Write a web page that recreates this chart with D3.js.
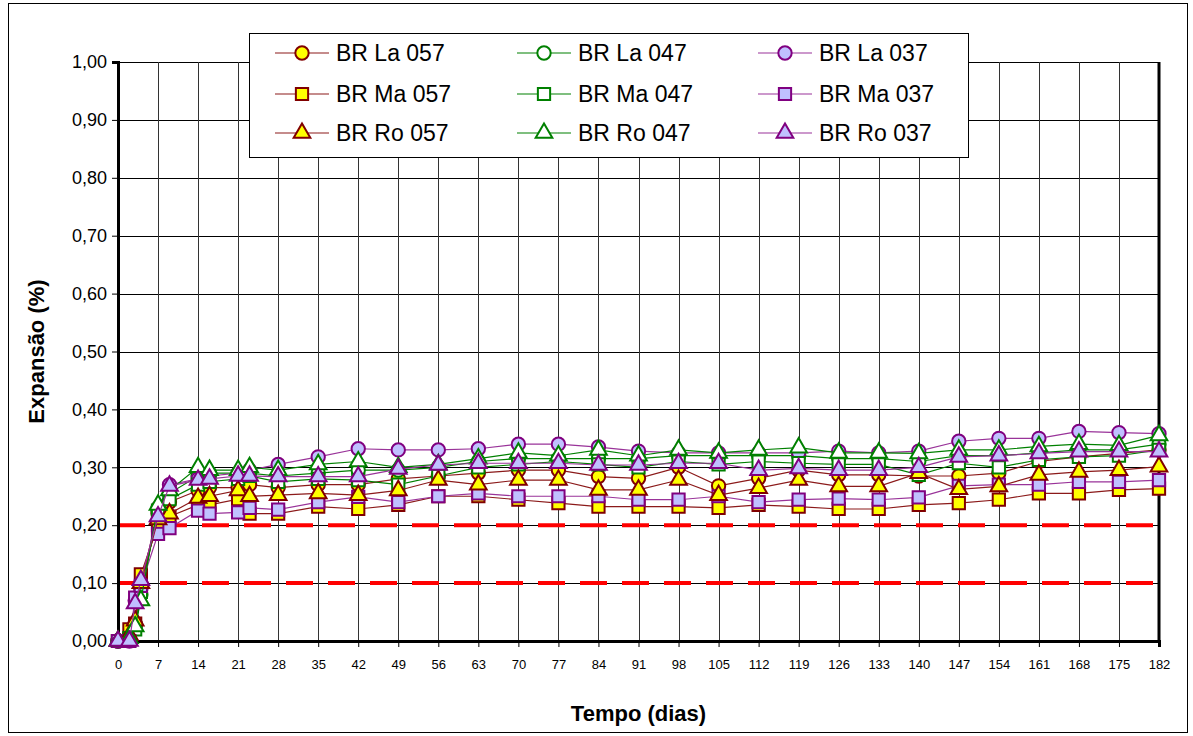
<!DOCTYPE html>
<html>
<head>
<meta charset="utf-8">
<script src="https://cdn.jsdelivr.net/npm/d3@7"></script>
<style>
    body { margin: 0; background: #fff; }
    #expansao { width: 1193px; height: 736px; }
    text { font-family: Arial, "Liberation Sans", sans-serif; }
</style>
</head>
<body>
<div id="expansao"></div>
<script>
// measuring days
const days = [0, 2, 3, 4, 7, 9, 14, 16, 21, 23, 28, 35, 42, 49, 56, 63, 70, 77, 84, 91, 98, 105, 112, 119, 126, 133, 140, 147, 154, 161, 168, 175, 182];

// expansion values (%) per specimen
const la057 = [0, 0.01, 0.03, 0.10, 0.22, 0.24, 0.26, 0.265, 0.265, 0.27, 0.265, 0.27, 0.27, 0.28, 0.285, 0.29, 0.295, 0.295, 0.284, 0.281, 0.30, 0.268, 0.281, 0.295, 0.287, 0.287, 0.285, 0.285, 0.29, 0.31, 0.318, 0.324, 0.33];
const la047 = [0, 0.005, 0.025, 0.08, 0.225, 0.255, 0.285, 0.29, 0.29, 0.29, 0.285, 0.29, 0.295, 0.295, 0.30, 0.31, 0.315, 0.315, 0.315, 0.315, 0.32, 0.32, 0.32, 0.32, 0.315, 0.315, 0.31, 0.32, 0.32, 0.325, 0.33, 0.33, 0.34];
const la037 = [0, 0, 0.07, 0.09, 0.23, 0.27, 0.28, 0.285, 0.29, 0.295, 0.305, 0.318, 0.332, 0.33, 0.33, 0.332, 0.34, 0.34, 0.335, 0.328, 0.325, 0.325, 0.325, 0.325, 0.328, 0.325, 0.328, 0.345, 0.35, 0.35, 0.362, 0.36, 0.358];
const ma057 = [0, 0.02, 0.03, 0.115, 0.20, 0.215, 0.235, 0.235, 0.245, 0.22, 0.22, 0.232, 0.228, 0.235, 0.25, 0.25, 0.244, 0.238, 0.232, 0.232, 0.232, 0.23, 0.235, 0.232, 0.228, 0.228, 0.235, 0.238, 0.244, 0.255, 0.255, 0.261, 0.263];
const ma047 = [0, 0.005, 0.02, 0.085, 0.225, 0.245, 0.27, 0.275, 0.28, 0.285, 0.275, 0.28, 0.278, 0.27, 0.285, 0.30, 0.305, 0.31, 0.305, 0.30, 0.31, 0.305, 0.31, 0.307, 0.305, 0.305, 0.287, 0.307, 0.30, 0.313, 0.318, 0.32, 0.33];
const ma037 = [0, 0, 0.075, 0.095, 0.185, 0.195, 0.225, 0.22, 0.222, 0.23, 0.227, 0.24, 0.249, 0.24, 0.25, 0.255, 0.25, 0.25, 0.25, 0.244, 0.244, 0.25, 0.24, 0.244, 0.246, 0.244, 0.248, 0.268, 0.27, 0.27, 0.275, 0.275, 0.278];
const ro057 = [0, 0.01, 0.035, 0.10, 0.21, 0.22, 0.247, 0.25, 0.26, 0.25, 0.252, 0.255, 0.252, 0.26, 0.278, 0.27, 0.278, 0.278, 0.261, 0.261, 0.278, 0.252, 0.264, 0.278, 0.267, 0.267, 0.29, 0.262, 0.267, 0.287, 0.292, 0.295, 0.301];
const ro047 = [0, 0.005, 0.025, 0.07, 0.235, 0.26, 0.30, 0.295, 0.295, 0.30, 0.295, 0.305, 0.31, 0.30, 0.305, 0.315, 0.325, 0.32, 0.33, 0.32, 0.33, 0.325, 0.33, 0.334, 0.325, 0.325, 0.324, 0.33, 0.33, 0.336, 0.34, 0.338, 0.355];
const ro037 = [0, 0, 0.065, 0.105, 0.215, 0.268, 0.278, 0.28, 0.285, 0.285, 0.284, 0.284, 0.284, 0.297, 0.304, 0.307, 0.307, 0.307, 0.304, 0.304, 0.307, 0.307, 0.295, 0.298, 0.295, 0.295, 0.30, 0.318, 0.32, 0.324, 0.327, 0.327, 0.327];

// series names in legend order (row by row)
const seriesNames = ["BR La 057", "BR La 047", "BR La 037", "BR Ma 057", "BR Ma 047", "BR Ma 037", "BR Ro 057", "BR Ro 047", "BR Ro 037"];
const seriesValues = [la057, la047, la037, ma057, ma047, ma037, ro057, ro047, ro037];

// x ticks every week, y ticks every 0,10
const xTicks = d3.range(0, 183, 7);
const yTicks = [0, 0.1, 0.2, 0.3, 0.4, 0.5, 0.6, 0.7, 0.8, 0.9, 1.0];
const limits = [0.1, 0.2];

// colour per cement (057, 047, 037) and symbol per aggregate (La, Ma, Ro)
const styles = {
    "057": {line: "#8b1a1a", stroke: "#800000", fill: "#ffff00"},
    "047": {line: "#008000", stroke: "#008000", fill: "#ffffff"},
    "037": {line: "#993399", stroke: "#800080", fill: "#c0c0ff"}
};
const symbols = {"La": d3.symbolCircle, "Ma": d3.symbolSquare, "Ro": d3.symbolTriangle};
const symbolSizes = {"La": 140, "Ma": 150, "Ro": 120};

let margin = {top: 62, right: 34, bottom: 95, left: 118},
    width = 1193 - margin.left - margin.right,
    height = 736 - margin.top - margin.bottom;

let svg = d3.select("#expansao")
    .append("svg")
    .attr("width", 1193)
    .attr("height", 736);

// outer frame of the chart
svg.append("rect")
    .attr("x", 8.5)
    .attr("y", 3.5)
    .attr("width", 1179)
    .attr("height", 729)
    .attr("fill", "white")
    .attr("stroke", "black")
    .attr("stroke-width", 1);

let g = svg.append("g")
    .attr("transform", "translate(" + margin.left + "," + margin.top + ")");

let x = d3.scaleLinear().domain([0, 182]).range([0, width]);
let y = d3.scaleLinear().domain([0, 1]).range([height, 0]);

// grid lines
g.append("g")
    .selectAll("line")
    .data(yTicks)
    .join("line")
    .attr("x1", 0).attr("x2", width)
    .attr("y1", d => Math.round(y(d)) + 0.5)
    .attr("y2", d => Math.round(y(d)) + 0.5)
    .attr("stroke", "#000")
    .attr("stroke-width", 1);

g.append("g")
    .selectAll("line")
    .data(xTicks)
    .join("line")
    .attr("y1", 0).attr("y2", height)
    .attr("x1", d => Math.round(x(d)) + 0.5)
    .attr("x2", d => Math.round(x(d)) + 0.5)
    .attr("stroke", "#333")
    .attr("stroke-width", 1);

// red dashed limit lines
g.append("g")
    .selectAll("line")
    .data(limits)
    .join("line")
    .attr("x1", 0).attr("x2", width)
    .attr("y1", d => y(d)).attr("y2", d => y(d))
    .attr("stroke", "#ff0000")
    .attr("stroke-width", 4)
    .attr("stroke-dasharray", "27,15");

// axes
let yAxis = g.append("g")
    .call(d3.axisLeft(y).tickValues(yTicks).tickSize(6).tickFormat(d => d3.format(".2f")(d).replace(".", ",")));
yAxis.select(".domain").attr("stroke-width", 3);
yAxis.selectAll("text").attr("font-size", "18px").attr("fill", "#000").attr("dx", "-2px");

let xAxis = g.append("g")
    .attr("transform", "translate(0," + height + ")")
    .call(d3.axisBottom(x).tickValues(xTicks).tickSize(6).tickFormat(d3.format("d")));
xAxis.select(".domain").attr("stroke-width", 3);
xAxis.selectAll("text").attr("font-size", "13px").attr("fill", "#000").attr("dy", "1.45em");

// right border of plot area
g.append("line")
    .attr("x1", width).attr("x2", width)
    .attr("y1", 0).attr("y2", height)
    .attr("stroke", "#000")
    .attr("stroke-width", 3);

// series: line then markers, in legend order
const line = d3.line()
    .x((d, i) => x(days[i]))
    .y(d => y(d));

seriesNames.forEach(function(name, k) {
    let cement = name.slice(-3), agg = name.slice(3, 5);
    let st = styles[cement];
    let sg = g.append("g").attr("class", "serie");
    sg.append("path")
        .datum(seriesValues[k])
        .attr("fill", "none")
        .attr("stroke", st.line)
        .attr("stroke-width", 1.2)
        .attr("d", line);
    sg.selectAll("path.mark")
        .data(seriesValues[k])
        .join("path")
        .attr("class", "mark")
        .attr("transform", (d, i) => "translate(" + x(days[i]) + "," + y(d) + ")")
        .attr("d", d3.symbol().type(symbols[agg]).size(symbolSizes[agg]))
        .attr("fill", st.fill)
        .attr("stroke", st.stroke)
        .attr("stroke-width", 2);
});

// axis titles
svg.append("text")
    .attr("x", margin.left + width / 2)
    .attr("y", 721)
    .attr("text-anchor", "middle")
    .attr("font-size", "22px")
    .attr("font-weight", "bold")
    .text("Tempo (dias)");

svg.append("text")
    .attr("transform", "translate(44," + (margin.top + height / 2) + ") rotate(-90)")
    .attr("text-anchor", "middle")
    .attr("font-size", "22px")
    .attr("font-weight", "bold")
    .text("Expansão (%)");

// legend box with three columns
let legend = svg.append("g");
legend.append("rect")
    .attr("x", 249.5).attr("y", 33.5)
    .attr("width", 719).attr("height", 124)
    .attr("fill", "white")
    .attr("stroke", "#000")
    .attr("stroke-width", 1);

const colX = [275, 517, 758];
const rowY = [53, 94, 133];

seriesNames.forEach(function(name, k) {
    let cement = name.slice(-3), agg = name.slice(3, 5);
    let st = styles[cement];
    let lx = colX[k % 3], ly = rowY[Math.floor(k / 3)];
    let item = legend.append("g").attr("transform", "translate(" + lx + "," + ly + ")");
    item.append("line")
        .attr("x1", 0).attr("x2", 54)
        .attr("stroke", st.line)
        .attr("stroke-width", 1.2);
    item.append("path")
        .attr("transform", "translate(27,0)")
        .attr("d", d3.symbol().type(symbols[agg]).size(symbolSizes[agg]))
        .attr("fill", st.fill)
        .attr("stroke", st.stroke)
        .attr("stroke-width", 2);
    item.append("text")
        .attr("x", 61)
        .attr("y", 8)
        .attr("font-size", "23px")
        .text(name);
});
</script>
</body>
</html>
